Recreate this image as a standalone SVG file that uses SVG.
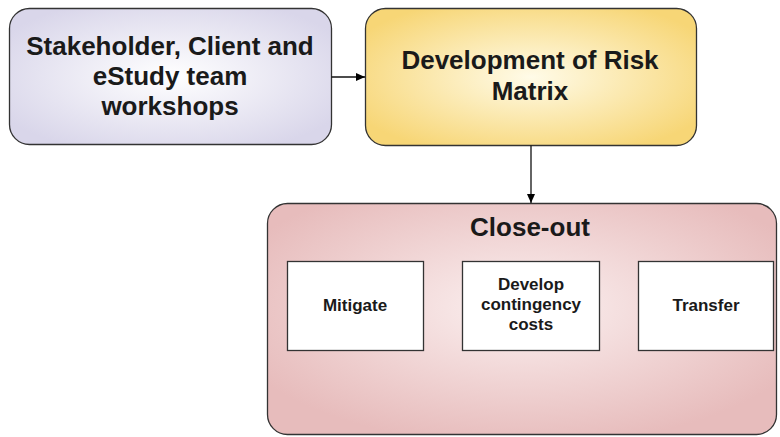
<svg xmlns="http://www.w3.org/2000/svg" width="780" height="437" viewBox="0 0 780 437">
<defs>
<radialGradient id="gLav" cx="0.5" cy="0.5" r="0.6">
<stop offset="0" stop-color="#ffffff"/>
<stop offset="1" stop-color="#d9d6ea"/>
</radialGradient>
<radialGradient id="gYel" cx="0.5" cy="0.5" r="0.6">
<stop offset="0" stop-color="#fffbe8"/>
<stop offset="1" stop-color="#f7d676"/>
</radialGradient>
<radialGradient id="gPink" cx="0.5" cy="0.45" r="0.6">
<stop offset="0" stop-color="#fbf0f0"/>
<stop offset="1" stop-color="#e7bcbc"/>
</radialGradient>
<marker id="arr" markerWidth="10" markerHeight="10" refX="9" refY="5" orient="auto" markerUnits="userSpaceOnUse">
<path d="M0,1 L9,5 L0,9 Z" fill="#000"/>
</marker>
</defs>
<style>
.big{font-family:"Liberation Sans",Arial,sans-serif;font-weight:bold;font-size:26px;fill:#1a1a1a;text-anchor:middle}
.small{font-family:"Liberation Sans",Arial,sans-serif;font-weight:bold;font-size:17px;fill:#1a1a1a;text-anchor:middle}
.box{stroke:#333;stroke-width:1.3}
.inner{fill:#fff;stroke:#333;stroke-width:1.3}
.conn{stroke:#111;stroke-width:1.3;fill:none}
</style>
<g id="workshops">
<rect class="box" x="9.5" y="8.5" width="322" height="136" rx="20" fill="url(#gLav)"/>
<text class="big" x="170" y="55">Stakeholder, Client and</text>
<text class="big" x="170" y="85">eStudy team</text>
<text class="big" x="170" y="115">workshops</text>
</g>
<g id="riskmatrix">
<rect class="box" x="365.5" y="8.5" width="331" height="137" rx="20" fill="url(#gYel)"/>
<text class="big" x="530" y="69">Development of Risk</text>
<text class="big" x="530" y="100">Matrix</text>
</g>
<g id="closeout">
<rect class="box" x="267.5" y="203.5" width="509" height="231" rx="20" fill="url(#gPink)"/>
<text class="big" x="530" y="236">Close-out</text>
</g>
<g id="mitigate">
<rect class="inner" x="287.5" y="261.5" width="136" height="89"/>
<text class="small" x="355" y="311">Mitigate</text>
</g>
<g id="contingency">
<rect class="inner" x="462.5" y="261.5" width="137" height="89"/>
<text class="small" x="531" y="290">Develop</text>
<text class="small" x="531" y="310">contingency</text>
<text class="small" x="531" y="330">costs</text>
</g>
<g id="transfer">
<rect class="inner" x="638.5" y="261.5" width="135" height="89"/>
<text class="small" x="706" y="311">Transfer</text>
</g>
<g id="connectors">
<line class="conn" x1="331.5" y1="77" x2="365" y2="77" marker-end="url(#arr)"/>
<line class="conn" x1="531" y1="145.5" x2="531" y2="203" marker-end="url(#arr)"/>
</g>
</svg>
